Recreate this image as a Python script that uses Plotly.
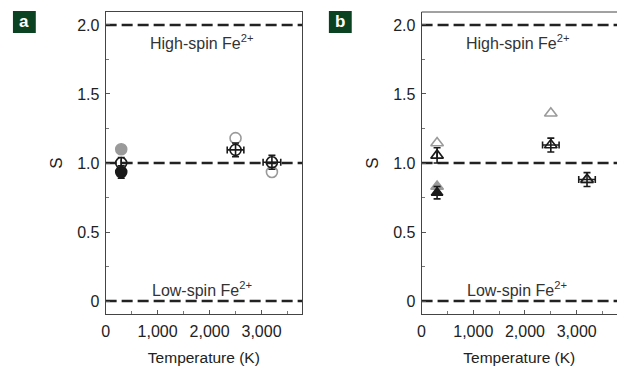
import plotly.graph_objects as go

# ---- data ----
# panel a (circles)
a_gray_fill_T = [300]; a_gray_fill_S = [1.10]
a_black_fill_T = [300]; a_black_fill_S = [0.935]; a_black_fill_err = [0.045]
a_gray_open_T = [2500, 3200]; a_gray_open_S = [1.18, 0.935]
a_black_open_T = [300, 2500, 3200]; a_black_open_S = [1.00, 1.095, 1.005]
a_black_open_err = [0.04, 0.05, 0.05]; a_black_open_xerr = [0, 160, 170]

# panel b (triangles)
b_gray_open_T = [300, 2500, 3200]; b_gray_open_S = [1.145, 1.36, 0.875]
b_black_open_T = [300, 2500, 3200]; b_black_open_S = [1.055, 1.13, 0.88]
b_black_open_err = [0.055, 0.05, 0.05]; b_black_open_xerr = [0, 160, 160]
b_gray_fill_T = [300]; b_gray_fill_S = [0.83]
b_black_fill_T = [300]; b_black_fill_S = [0.785]; b_black_fill_err = [0.045]

ref_levels = [0, 1, 2]
x_tickvals = [0, 1000, 2000, 3000]
x_ticktext = ["0", "1,000", "2,000", "3,000"]
y_tickvals = [0, 0.5, 1.0, 1.5, 2.0]
y_ticktext = ["0", "0.5", "1.0", "1.5", "2.0"]

FONT = "Liberation Sans, Arial, sans-serif"
GRAY = "#9a9a9a"
BLACK = "#1a1a1a"

fig = go.Figure()

def add(T, S, xa, ya, symbol, color, size=10, err=None, xerr=None, lw=1.6):
    kw = {}
    if err is not None:
        kw["error_y"] = dict(type="data", array=err, visible=True, color=BLACK, thickness=1.6, width=3.5)
    if xerr is not None:
        kw["error_x"] = dict(type="data", array=xerr, visible=True, color=BLACK, thickness=1.6, width=3.5)
    fig.add_trace(go.Scatter(x=T, y=S, mode="markers", xaxis=xa, yaxis=ya, showlegend=False,
                             marker=dict(symbol=symbol, size=size, color=color,
                                         line=dict(color=color, width=lw)), **kw))

# panel a
add(a_gray_fill_T, a_gray_fill_S, "x", "y", "circle", GRAY, size=11)
add(a_gray_open_T, a_gray_open_S, "x", "y", "circle-open", GRAY, size=11)
add(a_black_fill_T, a_black_fill_S, "x", "y", "circle", BLACK, size=11, err=a_black_fill_err)
add(a_black_open_T, a_black_open_S, "x", "y", "circle-open", BLACK, size=11,
    err=a_black_open_err, xerr=a_black_open_xerr)

# panel b
add(b_gray_open_T, b_gray_open_S, "x2", "y2", "triangle-up-open", GRAY, size=11)
add(b_gray_fill_T, b_gray_fill_S, "x2", "y2", "triangle-up", GRAY, size=11)
add(b_black_fill_T, b_black_fill_S, "x2", "y2", "triangle-up", BLACK, size=10, err=b_black_fill_err)
add(b_black_open_T, b_black_open_S, "x2", "y2", "triangle-up-open", BLACK, size=11,
    err=b_black_open_err, xerr=b_black_open_xerr)

shapes = []
for xr, yr in [("x", "y"), ("x2", "y2")]:
    for lv in ref_levels:
        shapes.append(dict(type="line", xref=xr + " domain", yref=yr, x0=0, x1=1, y0=lv, y1=lv,
                           line=dict(color="#222222", width=2.6, dash="11px,5px"), layer="below"))
# top border for panel b
shapes.append(dict(type="line", xref="x2 domain", yref="y2 domain", x0=0, x1=1, y0=1, y1=1,
                   line=dict(color="#444444", width=1)))
# panel label boxes
for x0, x1 in [(9, 32), (327, 350)]:
    shapes.append(dict(type="rect", xref="paper", yref="paper",
                       x0=x0 / 617, x1=x1 / 617, y0=1 - 33 / 366, y1=1 - 11 / 366,
                       fillcolor="#0b4322", line=dict(width=0)))

annotations = []
for lab, xc in [("a", 20.5), ("b", 338.5)]:
    annotations.append(dict(text="<b>" + lab + "</b>", x=xc / 617, y=1 - 22 / 366, xref="paper", yref="paper",
                            showarrow=False, font=dict(family=FONT, size=17, color="white"),
                            xanchor="center", yanchor="middle"))
for xr, yr in [("x", "y"), ("x2", "y2")]:
    annotations.append(dict(text="High-spin Fe<sup>2+</sup>", x=0.49, y=1.875, xref=xr + " domain", yref=yr,
                            showarrow=False, font=dict(family=FONT, size=16, color="#333333"), xanchor="center"))
    annotations.append(dict(text="Low-spin Fe<sup>2+</sup>", x=0.49, y=0.085, xref=xr + " domain", yref=yr,
                            showarrow=False, font=dict(family=FONT, size=16, color="#333333"), xanchor="center"))

xcommon = dict(range=[0, 3780], tickvals=x_tickvals, ticktext=x_ticktext, ticks="inside", ticklen=4,
               tickcolor="#555555", showline=True, linecolor="#444444", linewidth=1, showgrid=False,
               zeroline=False, tickfont=dict(family=FONT, size=16, color="#222222"), ticklabelstandoff=3,
               minor=dict(dtick=500, ticks="inside", ticklen=3, tickcolor="#777777"),
               title=dict(text="Temperature (K)", font=dict(family=FONT, size=15.5, color="#222222"), standoff=13))
ycommon = dict(range=[-0.094, 2.094], tickvals=y_tickvals, ticktext=y_ticktext, ticks="inside", ticklen=4,
               tickcolor="#555555", showline=True, linecolor="#444444", linewidth=1, showgrid=False,
               zeroline=False, tickfont=dict(family=FONT, size=16, color="#222222"), ticklabelstandoff=2,
               minor=dict(dtick=0.25, ticks="inside", ticklen=3, tickcolor="#777777"),
               title=dict(text="S", font=dict(family=FONT, size=17, color="#222222"), standoff=10))

fig.update_layout(
    width=617, height=366, margin=dict(l=0, r=0, t=0, b=0),
    paper_bgcolor="white", plot_bgcolor="white",
    xaxis=dict(domain=[102.3 / 617, 300 / 617], anchor="y", mirror=True, **xcommon),
    yaxis=dict(domain=[52 / 366, 354 / 366], anchor="x", mirror=True, **ycommon),
    xaxis2=dict(domain=[420.3 / 617, 1.0], anchor="y2", **xcommon),
    yaxis2=dict(domain=[52 / 366, 354 / 366], anchor="x2", **ycommon),
    shapes=shapes, annotations=annotations,
)

fig.write_html("out.html")
